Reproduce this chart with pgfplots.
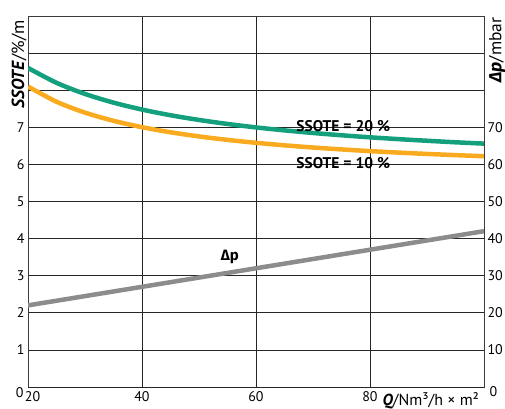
\documentclass[border=0pt]{standalone}
\usepackage{fontspec}
\setmainfont{PT Sans}
\newfontfamily\grk{Fira Sans}
\usepackage{pgfplots}
\pgfplotsset{compat=1.18}
\definecolor{cgreen}{RGB}{20,160,125}
\definecolor{corange}{RGB}{250,170,30}
\definecolor{cgray}{RGB}{140,140,140}
\definecolor{cframe}{RGB}{60,60,60}
\begin{document}
\begin{tikzpicture}[font=\fontsize{14bp}{16bp}\selectfont]
\pgfplotsset{
  common/.style={at={(0,0)}, anchor=south west, scale only axis,
    width=456bp, height=371bp, xmin=20, xmax=100,
    /pgf/number format/assume math mode=true,
    major tick length=0pt, tick style={draw=none},
    axis line style={cframe, line width=0.8bp}},
}
\begin{axis}[common, ymin=0, ymax=10,
  xtick={20,40,60,80},
  xticklabels={\hspace{9bp}20,40,60,80},
  xticklabel style={yshift=-1.5bp},
  ytick={1,2,3,4,5,6,7,8,9,10},
  yticklabels={1,2,3,4,5,6,7,{},{},{}},
  extra y ticks={0},
  extra y tick style={yticklabel style={yshift=-6bp, xshift=-1bp}},
  grid=major, major grid style={black!85, line width=0.7bp}]
\addplot[cgreen, line width=4.5bp, smooth] coordinates {
 (20,8.600) (25,8.199) (30,7.899) (35,7.665) (40,7.478) (45,7.325)
 (50,7.198) (55,7.090) (60,6.997) (65,6.917) (70,6.847) (75,6.785)
 (80,6.730) (85,6.681) (90,6.637) (95,6.596) (100,6.560)};
\addplot[corange, line width=4.5bp, smooth] coordinates {
 (20,8.100) (25,7.689) (30,7.395) (35,7.175) (40,7.003) (45,6.866)
 (50,6.754) (55,6.661) (60,6.582) (65,6.514) (70,6.455) (75,6.404)
 (80,6.358) (85,6.318) (90,6.282) (95,6.250) (100,6.220)};
\node[font=\fontsize{15.5bp}{17bp}\selectfont\bfseries] at (axis cs:75.3,7.04) {SSOTE = 20 \%};
\node[font=\fontsize{15.5bp}{17bp}\selectfont\bfseries] at (axis cs:75.3,6.04) {SSOTE = 10 \%};
\node[font=\fontsize{15bp}{17bp}\selectfont\grk\bfseries] at (axis cs:55.4,3.5) {Δp};
\end{axis}
\begin{axis}[common, ymin=0, ymax=100, hide x axis, axis y line*=right,
  ytick={10,20,30,40,50,60,70,80,90,100},
  yticklabels={10,20,30,40,50,60,70,{},{},{}},
  extra y ticks={0},
  extra y tick style={yticklabel style={yshift=-5bp, xshift=2bp}}]
\addplot[cgray, line width=4.5bp] coordinates {(20,22) (100,42)};
\end{axis}
\node[rotate=90, anchor=east, font=\fontsize{17.5bp}{19bp}\selectfont] at (-9bp,370bp) {\textbf{\textit{SSOTE}}/\%/m};
\node[rotate=90, anchor=east, font=\fontsize{17.5bp}{19bp}\selectfont] at (469bp,373bp) {{\grk\bfseries\itshape Δp}/mbar};
\node[anchor=base west, font=\fontsize{16bp}{18bp}\selectfont] at (351bp,-18.5bp) {\textbf{\textit{Q}}/Nm³/h × m²};
\pgfresetboundingbox
\path (-28bp,-22bp) rectangle (477bp,387bp);
\end{tikzpicture}
\end{document}
